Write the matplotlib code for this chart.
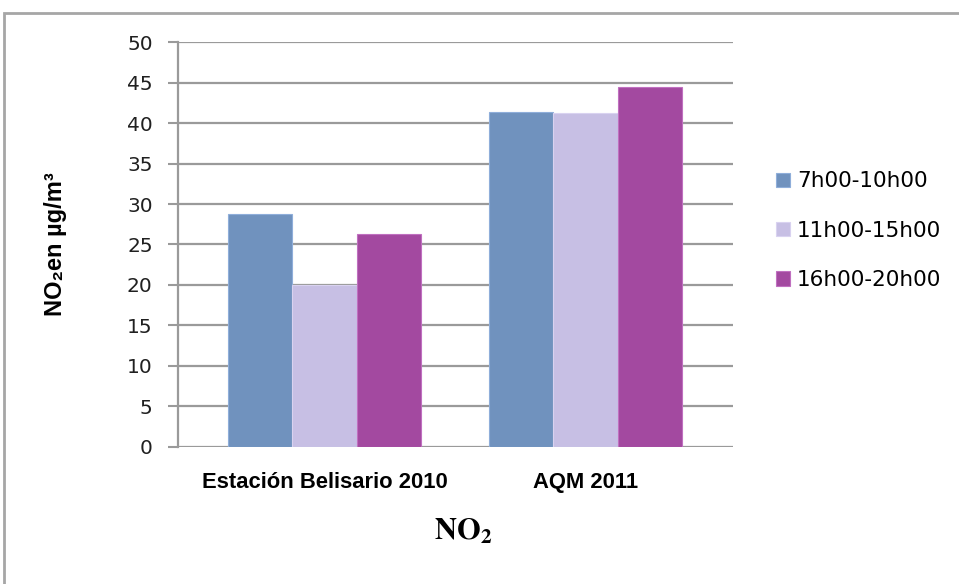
import numpy as np
import matplotlib
matplotlib.use("Agg")
import matplotlib.pyplot as plt
from matplotlib.patches import Rectangle


# Data
# -----------------------------------------------------------------------------

categories = ["Estación Belisario 2010", "AQM 2011"]
series_names = ["7h00-10h00", "11h00-15h00", "16h00-20h00"]
morning = [28.8, 41.4]
midday = [20.0, 41.2]
evening = [26.3, 44.5]
series_colors = ["#7092BE", "#C7BFE4", "#A349A0"]
edge_colors = ["#8FAEDA", "#D9D2F0", "#C070C0"]
yticks = [0, 5, 10, 15, 20, 25, 30, 35, 40, 45, 50]


# Plot
# -----------------------------------------------------------------------------

fig = plt.figure(figsize=(9.59, 5.84), dpi=100)
ax = fig.add_axes([0.1856, 0.2351, 0.5787, 0.6925])

x = np.arange(len(categories))
width = 0.247
values = [morning, midday, evening]
for i, vals in enumerate(values):
    ax.bar(x + (i - 1) * width, vals, width, color=series_colors[i],
           edgecolor=edge_colors[i], linewidth=0.8, label=series_names[i],
           zorder=3)

ax.set_ylim(0, 50)
ax.set_xlim(-0.561, 1.565)
ax.set_yticks(yticks)
ax.set_yticklabels([str(t) for t in yticks], fontsize=14.5,
                   family="DejaVu Sans", color="#202020")
ax.set_xticks(x)
ax.set_xticklabels(categories, fontsize=15.8, fontweight="bold",
                   family="Liberation Sans")
ax.tick_params(axis="y", length=7.2, width=1.5, color="#9a9a9a", pad=11)
ax.tick_params(axis="x", length=0, pad=18)
ax.grid(axis="y", color="#9a9a9a", linewidth=1.6, zorder=0)
for side in ["top", "right", "bottom"]:
    ax.spines[side].set_visible(False)
ax.spines["left"].set_color("#9a9a9a")
ax.spines["left"].set_linewidth(1.6)

ax.set_ylabel("NO₂en µg/m³", fontsize=17, fontweight="bold",
              family=["Liberation Sans", "DejaVu Sans"])
ax.yaxis.set_label_coords(-0.20, 0.5)

plt.rcParams["mathtext.fontset"] = "stix"
fig.text(0.483, 0.09, r"$\mathbf{NO_2}$", fontsize=22, ha="center",
         va="center")

fig.legend(loc="center left", bbox_to_anchor=(0.809, 0.605), frameon=False,
           prop={"family": "DejaVu Sans", "size": 15.5},
           handlelength=0.65, handleheight=0.65, handletextpad=0.33,
           labelspacing=1.36, borderaxespad=0, borderpad=0)

# Outer frame around the chart
fig.patches.append(Rectangle((4 / 959, -0.1), 1.2, 1.1 - 13.3 / 584,
                             transform=fig.transFigure, fill=False,
                             edgecolor="#a6a6a6", linewidth=2))

fig.savefig("out.png", dpi=100)
